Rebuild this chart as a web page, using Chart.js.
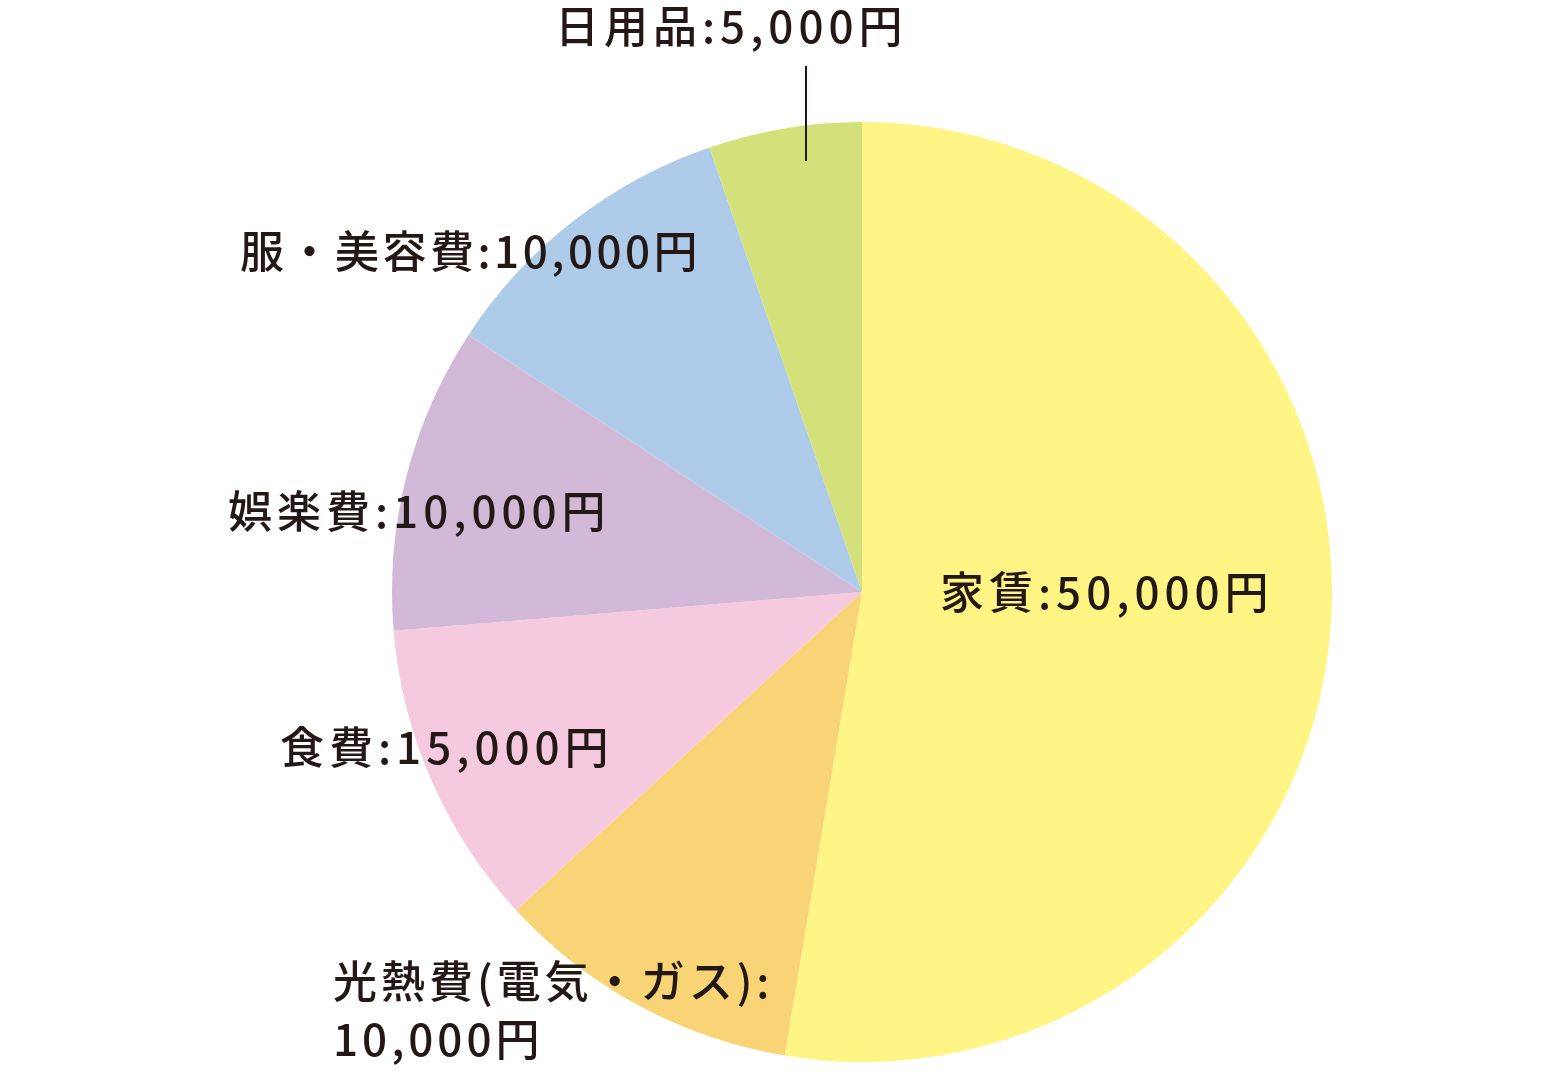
<!DOCTYPE html>
<html lang="ja">
<head>
<meta charset="utf-8">
<title>家計の内訳</title>
<script src="https://cdn.jsdelivr.net/npm/chart.js@4"></script>
<style>
    html, body { margin: 0; padding: 0; background: #fff; }
    #chart { display: block; }
</style>
</head>
<body>
<canvas id="chart" width="1560" height="1075"></canvas>
<script>
// slice order is clockwise from 12 o'clock
const categories = ['家賃', '光熱費(電気・ガス)', '食費', '娯楽費', '服・美容費', '日用品'];
// values as drawn by the slice sizes
const sliceValues = [50000, 10000, 10000, 10000, 10000, 5000];
// amounts as printed on the labels
const labelAmounts = ['50,000', '10,000', '15,000', '10,000', '10,000', '5,000'];
const colors = ['#FFF584', '#F9D477', '#F5C9DE', '#D3B9D8', '#AECBEA', '#D4E17A'];

const TEXT_COLOR = '#231815';
const FONT = '500 44px "Noto Sans CJK JP", "Noto Sans", sans-serif';

// label anchors (left edge, vertical middle) and line breaks per slice
const labelPlacement = [
    { x: 940, y: 592, lines: 1, spacing: 5 },
    { x: 333, y: 981, lines: 2, spacing: 4 },
    { x: 280, y: 747, lines: 1, spacing: 5 },
    { x: 228, y: 511, lines: 1, spacing: 5 },
    { x: 240, y: 251, lines: 1, spacing: 3.5 },
    { x: 555, y: 26, lines: 1, spacing: 5, leader: [806, 66, 806, 161] }
];

const sliceLabels = {
    id: 'sliceLabels',
    afterDatasetsDraw(chart) {
        const ctx = chart.ctx;
        ctx.save();
        ctx.font = FONT;
        ctx.fillStyle = TEXT_COLOR;
        ctx.strokeStyle = TEXT_COLOR;
        ctx.textAlign = 'left';
        ctx.textBaseline = 'middle';

        categories.forEach((name, i) => {
            const p = labelPlacement[i];
            const amount = labelAmounts[i] + '円';
            ctx.letterSpacing = p.spacing + 'px';
            if (p.lines == 2) {
                ctx.fillText(name + ':', p.x, p.y);
                ctx.fillText(amount, p.x, p.y + 58);
            } else {
                ctx.fillText(name + ':' + amount, p.x, p.y);
            }

            if (p.leader) {
                ctx.lineWidth = 2;
                ctx.beginPath();
                ctx.moveTo(p.leader[0], p.leader[1]);
                ctx.lineTo(p.leader[2], p.leader[3]);
                ctx.stroke();
            }
        });
        ctx.restore();
    }
};

new Chart(document.querySelector('#chart'), {
    type: 'pie',
    data: {
        labels: categories,
        datasets: [
            {
                data: sliceValues,
                backgroundColor: colors,
                borderWidth: 0,
                hoverOffset: 0
            }
        ]
    },
    options: {
        responsive: false,
        animation: false,
        devicePixelRatio: 1,
        layout: {
            padding: { top: 122, bottom: 13, left: 392, right: 228 }
        },
        plugins: {
            legend: { display: false },
            tooltip: { enabled: false }
        }
    },
    plugins: [sliceLabels]
});
</script>
</body>
</html>
